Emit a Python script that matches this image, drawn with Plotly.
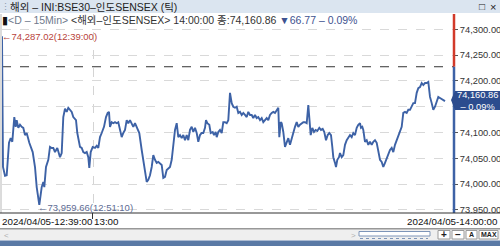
import plotly.graph_objects as go

# ---- data (tick chart: x = tick position along the session, y = index level) ----
tick_pos = [2, 3, 5, 6.7, 9, 10.7, 12.3, 14.3, 15.7, 16.7, 18.3, 20, 21.7, 23.3, 25, 26.7, 29.3, 32.7, 35, 36.7,
            39.3, 41.7, 43.3, 44.3, 46, 48.3, 50, 51.7, 53.3, 55, 57.3, 60, 61.7, 63.3, 65, 66.7, 68.3, 70, 71.7, 73.3,
            76, 77.3, 80, 81.7, 83.3, 85, 86.7, 88.3, 89.3, 90.7, 92.7, 95, 96.7, 98.3, 100, 101.7, 104, 106, 107.7, 109,
            110, 111.7, 113.3, 115, 116.7, 118.3, 120, 121.7, 123.3, 125, 126.7, 128.3, 130, 131.7, 133.3, 135, 136.7, 139.3, 141.7, 144,
            145.7, 146.7, 148.3, 150, 151.7, 153.3, 155, 156.7, 158.3, 161.7, 163.3, 165, 166.7, 168.3, 170, 171.7, 173.3, 175, 176.7, 178.3,
            180, 181.7, 183.3, 185, 186.7, 188.3, 190, 191.7, 193.3, 195, 196.7, 198.3, 200, 201.7, 203.3, 205, 206, 207.3, 209.3, 210.7,
            212.7, 214, 215.7, 216.7, 218.3, 220, 221.7, 223.3, 225, 226.7, 228.3, 230, 231.7, 233.3, 235, 236.7, 238.3, 240, 241.7, 243.3,
            245, 246.7, 248.3, 250, 251.7, 253.3, 255, 256.7, 258.3, 260, 261.7, 263.3, 265, 266.7, 268.3, 270, 271.7, 273.3, 275, 276.7,
            278.3, 279.3, 280.7, 281.7, 283.3, 285, 286.7, 288.3, 290, 291.7, 293.3, 295, 296.7, 298.3, 300, 301.7, 303.3, 305, 306.7, 308.3,
            309.3, 310.7, 312.3, 314, 315.7, 317.3, 319.3, 321, 322.7, 324.3, 326, 327.7, 329.3, 331, 332.3, 333.3, 335, 336, 337.3, 339,
            340, 341.7, 343.3, 345, 346.7, 348.3, 350, 351.7, 353.3, 355, 356.7, 358.3, 360, 361, 362.3, 363.3, 365, 366.7, 368.3, 370,
            371.7, 373.3, 375, 376.7, 378.3, 380, 381.7, 383.3, 385, 386.7, 388.3, 390, 391.7, 393.3, 395, 396.7, 398.3, 400, 401.7, 403.3,
            405, 406.7, 408.3, 410, 411.7, 413.3, 415, 416.7, 418.3, 420, 421.7, 423.3, 425, 426.7, 428.3, 430, 431.7, 433.3, 435, 436.7,
            438.3, 440, 441.7, 445]
price = [74287.02, 74033, 74016, 74017, 74080, 74089, 74082, 74130, 74111, 74124, 74109, 74115, 74111, 74109, 74095, 74099, 74080, 74062, 74033, 73994,
         73959.66, 73994, 74004, 73994, 74033, 74047, 74072, 74070, 74070, 74062, 74070, 74052, 74060, 74130, 74146, 74140, 74148, 74144, 74140, 74130,
         74124, 74099, 74072, 74070, 74062, 74060, 74062, 74052, 74031, 74062, 74072, 74070, 74074, 74070, 74091, 74099, 74111, 74130, 74138, 74140,
         74111, 74120, 74118, 74120, 74118, 74120, 74105, 74091, 74099, 74105, 74124, 74118, 74124, 74118, 74111, 74118, 74109, 74099, 74066, 74041,
         74021, 74004, 74008, 74017, 74033, 74056, 74047, 74041, 74043, 74037, 74012, 74014, 74027, 74031, 74033, 74047, 74070, 74105, 74118, 74091,
         74095, 74089, 74095, 74085, 74095, 74085, 74105, 74111, 74101, 74109, 74099, 74082, 74095, 74099, 74099, 74109, 74124, 74118, 74115, 74099,
         74101, 74095, 74101, 74091, 74101, 74105, 74099, 74120, 74120, 74118, 74124, 74177, 74157, 74150, 74148, 74150, 74138, 74140, 74134, 74138,
         74134, 74130, 74140, 74134, 74134, 74128, 74134, 74128, 74130, 74124, 74128, 74120, 74124, 74128, 74124, 74134, 74138, 74140, 74138, 74144,
         74148, 74091, 74120, 74118, 74101, 74072, 74082, 74089, 74076, 74089, 74099, 74111, 74120, 74111, 74115, 74118, 74120, 74120, 74118, 74153,
         74130, 74095, 74109, 74101, 74105, 74103, 74109, 74105, 74107, 74101, 74085, 74095, 74099, 74095, 74072, 74052, 74041, 74033, 74047, 74052,
         74060, 74052, 74056, 74076, 74085, 74091, 74095, 74091, 74099, 74095, 74109, 74115, 74118, 74109, 74111, 74105, 74082, 74085, 74076, 74082,
         74076, 74082, 74085, 74080, 74062, 74047, 74043, 74033, 74041, 74050, 74060, 74066, 74070, 74062, 74076, 74085, 74095, 74105, 74111, 74138,
         74140, 74138, 74144, 74144, 74150, 74157, 74157, 74177, 74186, 74188, 74196, 74192, 74196, 74196, 74198, 74169, 74157, 74144, 74150, 74159,
         74169, 74167, 74165, 74160.86]

prev_close = 74227.63
y_ticks = [73950, 74000, 74050, 74100, 74150, 74200, 74250, 74300]
y_ticklabels = ["73,950.00", "74,000.00", "74,050.00", "74,100.00", "", "74,200.00", "74,250.00", "74,300.00"]
x_label_13 = 93
title_text = "해외 – INI:BSE30–인도SENSEX (틱)"
info_text = ("<span style='color:#111'>▮</span><span style='color:#6f7a8c'>&lt;D – 15Min&gt;</span> "
             "<span style='color:#333'>&lt;해외–인도SENSEX&gt; 14:00:00 종:74,160.86</span> "
             "<span style='color:#3e5290'>▼66.77 – 0.09%</span>")
max_text = "←74,287.02(12:39:00)"
min_text = "←73,959.66(12:51:10)"
x_left_label = "2024/04/05-12:39:00"
x_right_label = "2024/04/05-14:00:00"
last_label = "74,160.86<br>– 0.09%"

W, H = 500, 246
L, R, T, B = 2, 454, 14, 213
FONT = "Liberation Sans Narrow, Liberation Sans, Noto Sans CJK KR, sans-serif"


def px(x):
    return (x - L) / (R - L)


def py(y):
    return (B - y) / (B - T)


fig = go.Figure()
fig.add_trace(go.Scatter(x=tick_pos, y=price, mode="lines",
                         line=dict(color="#3d62a6", width=1.9), hoverinfo="skip", showlegend=False))

shapes = []
# header bar
shapes.append(dict(type="rect", xref="paper", yref="paper", x0=px(0), x1=px(W), y0=py(13), y1=py(0),
                   fillcolor="#dbe5f0", line=dict(width=0), layer="above"))
# previous close dashed line
shapes.append(dict(type="line", xref="paper", yref="y", x0=0, x1=1, y0=prev_close, y1=prev_close,
                   line=dict(color="#333333", width=1, dash="dash"), layer="below"))
# right axis line: red above previous close, blue below
shapes.append(dict(type="line", xref="paper", yref="y", x0=1, x1=1, y0=prev_close, y1=74330,
                   line=dict(color="#d23a2a", width=2.5)))
shapes.append(dict(type="line", xref="paper", yref="y", x0=1, x1=1, y0=73943, y1=prev_close,
                   line=dict(color="#3d62a6", width=2.5)))
# left border
shapes.append(dict(type="line", xref="paper", yref="paper", x0=px(1), x1=px(1), y0=py(213), y1=py(14),
                   line=dict(color="#b8b8b8", width=1)))
# x label box
shapes.append(dict(type="rect", xref="paper", yref="paper", x0=px(0), x1=px(W), y0=py(229), y1=py(213),
                   fillcolor="white", line=dict(width=0)))
shapes.append(dict(type="line", xref="paper", yref="paper", x0=px(0), x1=px(W), y0=py(213), y1=py(213),
                   line=dict(color="#333333", width=1.2)))
shapes.append(dict(type="line", xref="paper", yref="paper", x0=px(0), x1=px(W), y0=py(229), y1=py(229),
                   line=dict(color="#333333", width=1.2)))
shapes.append(dict(type="line", xref="paper", yref="paper", x0=px(92.5), x1=px(92.5), y0=py(219), y1=py(213),
                   line=dict(color="#333333", width=1)))
# scroll bar
shapes.append(dict(type="rect", xref="paper", yref="paper", x0=px(0), x1=px(W), y0=py(240), y1=py(229.6),
                   fillcolor="#efefef", line=dict(width=0)))
shapes.append(dict(type="rect", xref="paper", yref="paper", x0=px(359), x1=px(430), y0=py(236), y1=py(231.5),
                   fillcolor="white", line=dict(color="#7e95b8", width=1)))
shapes.append(dict(type="line", xref="paper", yref="paper", x0=px(360), x1=px(428), y0=py(238.5), y1=py(238.5),
                   line=dict(color="#7e95b8", width=1, dash="dot")))
for x0, x1 in [(438, 450), (452, 464), (466, 477), (479, 498)]:
    shapes.append(dict(type="rect", xref="paper", yref="paper", x0=px(x0), x1=px(x1), y0=py(239), y1=py(230.5),
                       fillcolor="white", line=dict(color="#9a9a9a", width=1)))
# bottom strip
shapes.append(dict(type="rect", xref="paper", yref="paper", x0=px(0), x1=px(W), y0=py(246), y1=py(240.5),
                   fillcolor="#5a79a5", line=dict(width=0)))
# last price tag
tag = (f"M {px(451)},{py(100)} L {px(455)},{py(91)} L {px(500)},{py(91)} "
       f"L {px(500)},{py(110)} L {px(455)},{py(110)} Z")
shapes.append(dict(type="path", xref="paper", yref="paper", path=tag, fillcolor="#2c4c8e",
                   line=dict(width=0), layer="above"))

ann = []


def text(x, y, s, size=10.5, color="#222", anchor="left"):
    ann.append(dict(x=px(x), y=py(y), xref="paper", yref="paper", text=s, showarrow=False,
                    xanchor=anchor, yanchor="middle", font=dict(family=FONT, size=size, color=color),
                    align=anchor, borderpad=0))


text(0, 6.5, "⋮", 9, "#8a99ad")
text(9, 7, title_text, 10.5, "#222")
text(478, 7, "□", 10, "#222")
text(489, 7, "×", 11, "#222")
text(1, 20, info_text, 10.5)
text(1, 36, max_text, 9.5, "#b8433a")
text(37, 207, min_text, 9.5, "#5e6c94")
text(1, 221, x_left_label, 9.8, "#111")
text(93, 221, "13:00", 9.8, "#111")
text(499, 221, x_right_label, 9.8, "#111", anchor="right")
text(3, 235, "<", 8, "#b0b0b0")
text(350, 235, ">", 8, "#b0b0b0")
text(444, 234.5, "<b>+</b>", 10, "#222", anchor="center")
text(458, 234.5, "<b>–</b>", 10, "#222", anchor="center")
text(471.5, 234.5, "<b>A</b>", 7, "#222", anchor="center")
text(488.5, 234.5, "<b>MAX</b>", 7, "#222", anchor="center")
text(477.5, 100.5, last_label, 9.3, "white", anchor="center")

fig.update_layout(
    width=W, height=H,
    margin=dict(l=L, r=W - R, t=T, b=H - B, pad=0, autoexpand=False),
    paper_bgcolor="white", plot_bgcolor="white",
    shapes=shapes, annotations=ann,
    xaxis=dict(range=[L, R], tickvals=[x_label_13], showticklabels=False, ticks="",
               showgrid=True, gridcolor="#d4d4d4", griddash="dash", gridwidth=1, automargin=False,
               zeroline=False, showline=False, fixedrange=True),
    yaxis=dict(range=[73943.7, 74330], side="right", tickvals=y_ticks, ticktext=y_ticklabels,
               ticks="outside", ticklen=3, tickcolor="#555", showgrid=True, gridcolor="#d9d9d9",
               griddash="dash", gridwidth=1, zeroline=False, showline=False, automargin=False,
               tickfont=dict(family=FONT, size=9.3, color="#333"), fixedrange=True),
)

fig.write_html("out.html")
